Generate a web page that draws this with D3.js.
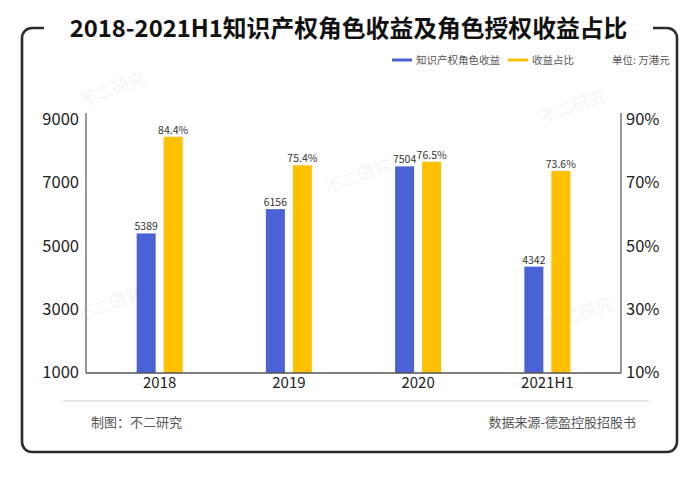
<!DOCTYPE html>
<html><head><meta charset="utf-8">
<script src="https://cdn.jsdelivr.net/npm/d3@7"></script>
<style>body{margin:0;background:#fff}svg{display:block}</style>
</head><body>
<svg id="c" width="700" height="480"></svg>
<script>
const categories = ["2018", "2019", "2020", "2021H1"];
const revenue = [5389, 6156, 7504, 4342];
const share = [84.4, 75.4, 76.5, 73.6];
const leftTicks = [1000, 3000, 5000, 7000, 9000];
const rightTicks = [10, 30, 50, 70, 90];
const seriesNames = ["知识产权角色收益", "收益占比"];
const seriesColors = ["#4a62d6", "#ffc000"];
const titleText = "2018-2021H1知识产权角色收益及角色授权收益占比";
const unitText = "单位: 万港元";
const footLeft = "制图：不二研究";
const footRight = "数据来源-德盈控股招股书";
const watermark = "不二研究";

const FONT = "'Noto Sans CJK SC','Noto Sans',sans-serif";
const svg = d3.select("#c").style("font-family", FONT);

// watermarks (faint)
const wmPos = [[115, 95], [575, 112], [360, 182], [112, 310], [582, 320]];
wmPos.forEach(p => {
  svg.append("text").attr("transform", `translate(${p[0]},${p[1]}) rotate(-20)`)
    .attr("text-anchor", "middle").attr("font-size", 17).attr("fill", "#000")
    .attr("opacity", 0.045).text(watermark);
});

// frame
svg.append("path")
  .attr("d", "M44,28 H32 A10,10 0 0 0 22,38 V442 A10,10 0 0 0 32,452 H667 A10,10 0 0 0 677,442 V38 A10,10 0 0 0 667,28 H653")
  .attr("fill", "none").attr("stroke", "#2b2b2b").attr("stroke-width", 2.6);

// title
svg.append("text").attr("x", 348.5).attr("y", 28).attr("dy", "0.36em")
  .attr("text-anchor", "middle").attr("font-size", 23.8).attr("font-weight", 700)
  .attr("fill", "#111").text(titleText);

// scales
const x = d3.scaleBand().domain(categories).range([86, 621]).paddingInner(0).paddingOuter(0.07);
const x1 = d3.scaleBand().domain([0, 1]).range([-23, 23]).paddingInner(0.296);
const yL = d3.scaleLinear().domain([1000, 9000]).range([372.5, 119]);
const yR = d3.scaleLinear().domain([10, 90]).range([372.5, 119]);
const base = 373;

// axes
const gL = svg.append("g").attr("transform", "translate(86,0)")
  .call(d3.axisLeft(yL).tickValues(leftTicks).tickSize(0).tickPadding(7).tickFormat(d3.format("d")));
const gR = svg.append("g").attr("transform", "translate(621,0)")
  .call(d3.axisRight(yR).tickValues(rightTicks).tickSize(0).tickPadding(5).tickFormat(d => d + "%"));
const gB = svg.append("g").attr("transform", `translate(0,${base})`)
  .call(d3.axisBottom(x).tickSize(0).tickPadding(4));
[gL, gR, gB].forEach(g => {
  g.select(".domain").remove();
  g.selectAll("text").attr("font-family", FONT).attr("fill", "#222");
});
gL.selectAll("text").attr("font-size", 16.5);
gR.selectAll("text").attr("font-size", 16.5);
gB.selectAll("text").attr("font-size", 15);

// axis lines
const axisColor = "#555";
svg.append("line").attr("x1", 86).attr("x2", 86).attr("y1", 113).attr("y2", base).attr("stroke", axisColor).attr("stroke-width", 1.2);
svg.append("line").attr("x1", 621).attr("x2", 621).attr("y1", 113).attr("y2", base).attr("stroke", axisColor).attr("stroke-width", 1.2);

// bars
const bw = x1.bandwidth();
const cx = c => x(c) + x.bandwidth() / 2;
svg.append("g").selectAll("rect").data(categories).join("rect")
  .attr("x", (c) => cx(c) + x1(0)).attr("width", bw)
  .attr("y", (c, i) => yL(revenue[i])).attr("height", (c, i) => base - yL(revenue[i]))
  .attr("fill", seriesColors[0]);
svg.append("g").selectAll("rect").data(categories).join("rect")
  .attr("x", (c) => cx(c) + x1(1)).attr("width", bw)
  .attr("y", (c, i) => yR(share[i])).attr("height", (c, i) => base - yR(share[i]))
  .attr("fill", seriesColors[1]);

// bottom axis line on top of bars
svg.append("line").attr("x1", 86).attr("x2", 621).attr("y1", base).attr("y2", base).attr("stroke", axisColor).attr("stroke-width", 1.4);

// value labels
svg.append("g").selectAll("text").data(categories).join("text")
  .attr("x", c => cx(c) + x1(0) + bw / 2).attr("y", (c, i) => yL(revenue[i]) - 3)
  .attr("text-anchor", "middle").attr("font-size", 10.5).attr("fill", "#333")
  .text((c, i) => revenue[i]);
svg.append("g").selectAll("text").data(categories).join("text")
  .attr("x", c => cx(c) + x1(1) + bw / 2).attr("y", (c, i) => yR(share[i]) - 3)
  .attr("text-anchor", "middle").attr("font-size", 10.5).attr("fill", "#333")
  .text((c, i) => share[i].toFixed(1) + "%");

// legend
const legX = [392, 508];
seriesNames.forEach((n, i) => {
  svg.append("rect").attr("x", legX[i]).attr("y", 58.5).attr("width", 20).attr("height", 3).attr("fill", seriesColors[i]);
  svg.append("text").attr("x", legX[i] + 24).attr("y", 60).attr("dy", "0.35em")
    .attr("font-size", 10.5).attr("fill", "#555").text(n);
});
svg.append("text").attr("x", 612).attr("y", 60).attr("dy", "0.35em")
  .attr("font-size", 10.5).attr("fill", "#555").text(unitText);

// footer
svg.append("line").attr("x1", 63).attr("x2", 649).attr("y1", 401).attr("y2", 401)
  .attr("stroke", "#e2e2e2").attr("stroke-width", 1.5);
svg.append("text").attr("x", 91).attr("y", 422).attr("dy", "0.35em")
  .attr("font-size", 13).attr("fill", "#555").text(footLeft);
svg.append("text").attr("x", 636).attr("y", 422).attr("dy", "0.35em").attr("text-anchor", "end")
  .attr("font-size", 13).attr("fill", "#555").text(footRight);
</script>
</body></html>
